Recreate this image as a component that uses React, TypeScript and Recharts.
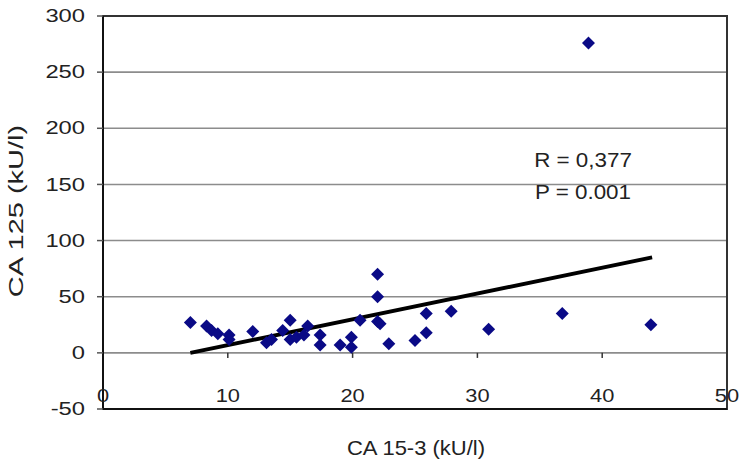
import React from "react";
import {
  ComposedChart,
  Scatter,
  XAxis,
  YAxis,
  CartesianGrid,
  ReferenceLine,
  ReferenceArea,
} from "recharts";

const ca153 = [7, 8.3, 8.7, 9.2, 10.1, 10.1, 12, 13.1, 13.5, 14.4, 15, 15, 15.5, 16.1, 16.4, 17.4, 17.4, 19, 19.9, 19.9, 20.6, 22, 22, 22, 22.2, 22.9, 25, 25.9, 25.9, 27.9, 30.9, 36.8, 38.9, 43.9];
const ca125 = [27, 24, 20, 17, 16, 12, 19, 9, 12, 20, 29, 12, 14, 16, 24, 16, 7, 7, 14, 5, 29, 70, 50, 28, 26, 8, 11, 35, 18, 37, 21, 35, 276, 25];
const trendX = [7, 44];
const trendY = [0, 85];
const xTicks = [0, 10, 20, 30, 40, 50];
const yTicks = [-50, 0, 50, 100, 150, 200, 250, 300];
const minorMarks = [10, 20, 30, 40];
const xTitle = "CA 15-3 (kU/l)";
const yTitle = "CA 125 (kU/l)";
const noteR = "R = 0,377";
const noteP = "P = 0.001";

const points = ca153.map((x, i) => ({ x, y: ca125[i] }));
const trend = trendX.map((x, i) => ({ x, y: trendY[i] }));

const FONT = "'Liberation Sans', Arial, sans-serif";
const TXT = "#222";

const Diamond = (props: any) => {
  const { cx, cy } = props;
  if (cx == null || cy == null) return null;
  const r = 6.5;
  return (
    <polygon
      points={`${cx},${cy - r} ${cx + r},${cy} ${cx},${cy + r} ${cx - r},${cy}`}
      fill="#0a0a86"
    />
  );
};

const XTick = (props: any) => {
  const { x, y, payload } = props;
  return (
    <text
      transform={`translate(${x},${y - 22}) scale(1.15,1)`}
      textAnchor="middle"
      dominantBaseline="central"
      fontFamily={FONT}
      fontSize={19}
      fill={TXT}
    >
      {payload.value}
    </text>
  );
};

const YTick = (props: any) => {
  const { x, y, payload } = props;
  return (
    <text
      transform={`translate(${x - 10},${y}) scale(1.25,1)`}
      textAnchor="end"
      dominantBaseline="central"
      fontFamily={FONT}
      fontSize={19}
      fill={TXT}
    >
      {payload.value}
    </text>
  );
};

export default function App() {
  return (
    <div style={{ position: "absolute", left: 0, top: 0, width: 741, height: 467, background: "#fff" }}>
      <ComposedChart
        width={741}
        height={467}
        margin={{ top: 16, right: 14, bottom: 28, left: 33 }}
      >
        <CartesianGrid vertical={false} stroke="#8c8c8c" strokeWidth={1.6} />
        <XAxis
          type="number"
          dataKey="x"
          domain={[0, 50]}
          ticks={xTicks}
          allowDataOverflow
          height={30}
          axisLine={{ stroke: "#111", strokeWidth: 2 }}
          tickLine={false}
          tick={<XTick />}
          interval={0}
        />
        <YAxis
          type="number"
          dataKey="y"
          domain={[-50, 300]}
          ticks={yTicks}
          allowDataOverflow
          width={70}
          axisLine={{ stroke: "#111", strokeWidth: 2 }}
          tickLine={{ stroke: "#555", strokeWidth: 1.5 }}
          tickSize={6}
          tick={<YTick />}
          interval={0}
        />
        <ReferenceArea
          x1={0}
          x2={50}
          y1={-50}
          y2={300}
          fill="none"
          fillOpacity={0}
          stroke="#333"
          strokeWidth={2}
        />
        {minorMarks.map((m) => (
          <ReferenceLine
            key={m}
            segment={[
              { x: m, y: 0 },
              { x: m, y: -4.5 },
            ]}
            stroke="#333"
            strokeWidth={1.5}
          />
        ))}
        <ReferenceLine
          segment={[trend[0], trend[1]]}
          stroke="#000"
          strokeWidth={3.8}
        />
        <Scatter data={points} shape={<Diamond />} isAnimationActive={false} />
      </ComposedChart>
      <svg
        width={741}
        height={467}
        style={{ position: "absolute", left: 0, top: 0, pointerEvents: "none" }}
      >
        <text
          transform="translate(416,448) scale(1.1,1)"
          textAnchor="middle"
          dominantBaseline="central"
          fontFamily={FONT}
          fontSize={20}
          fill={TXT}
        >
          {xTitle}
        </text>
        <text
          transform="translate(16,211) rotate(-90) scale(1.38,1)"
          textAnchor="middle"
          dominantBaseline="central"
          fontFamily={FONT}
          fontSize={21}
          fill={TXT}
        >
          {yTitle}
        </text>
        <text
          transform="translate(583,160) scale(1.12,1)"
          textAnchor="middle"
          dominantBaseline="central"
          fontFamily={FONT}
          fontSize={20}
          fill={TXT}
        >
          {noteR}
        </text>
        <text
          transform="translate(583,192) scale(1.12,1)"
          textAnchor="middle"
          dominantBaseline="central"
          fontFamily={FONT}
          fontSize={20}
          fill={TXT}
        >
          {noteP}
        </text>
      </svg>
    </div>
  );
}
